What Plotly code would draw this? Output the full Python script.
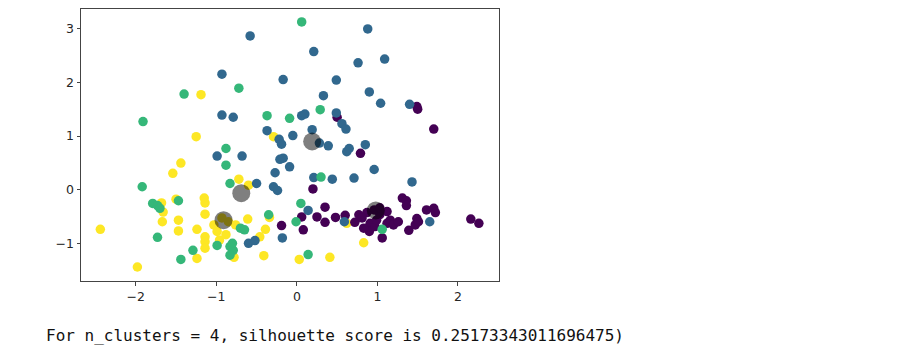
import plotly.graph_objects as go

# ---- data (cluster labels 0..3) ----
c0_x = [1.49, 1.50, 1.70, 0.50, 0.79, 0.20, 0.35, 0.06, -0.19, 0.08, 0.25, 0.35, 0.48, 0.60, 0.72,
        0.77, 0.87, 0.91, 0.90, 0.97, 0.99, 1.03, 1.12, 1.16, 1.12, 1.20, 1.26, 1.31, 1.36, 1.36,
        1.39, 1.47, 1.49, 1.51, 1.61, 1.70, 1.72, 2.16, 2.26, 1.06, 0.96, 1.03, 0.83, 0.81]
c0_y = [1.55, 1.50, 1.13, 1.35, 0.68, 0.02, -0.32, -0.50, -0.66, -0.74, -0.50, -0.60, -0.51, -0.47, -0.60,
        -0.46, -0.42, -0.62, -0.77, -0.68, -0.56, -0.46, -0.40, -0.56, -0.62, -0.65, -0.59, -0.15, -0.20, -0.29,
        -0.75, -0.65, -0.53, -0.59, -0.37, -0.34, -0.42, -0.54, -0.62, -0.89, -0.37, -0.33, -0.71, -0.52]

c1_x = [-0.58, 0.88, 0.21, 0.76, 1.09, -0.93, -0.17, 0.49, 0.33, 0.90, 1.04, 1.40, -0.93, -0.79, 0.06,
        0.10, 0.49, 0.56, 0.61, -0.37, -0.22, -0.19, -0.05, 0.19, 0.28, 0.39, 0.62, 0.65, 0.85, -0.99,
        -0.68, -0.21, -0.17, -0.09, -0.27, -0.50, -0.29, -0.24, 0.96, 0.21, 0.44, 0.71, 1.43, 0.14, 0.59,
        1.65, -0.18, -0.60, -0.52]
c1_y = [2.86, 2.99, 2.57, 2.36, 2.43, 2.15, 2.05, 2.04, 1.75, 1.82, 1.61, 1.59, 1.39, 1.35, 1.38,
        1.41, 1.43, 1.23, 1.13, 1.10, 0.94, 0.85, 1.01, 1.12, 0.87, 0.82, 0.71, 0.77, 0.84, 0.63,
        0.63, 0.57, 0.59, 0.43, 0.32, 0.12, 0.06, -0.01, 0.38, 0.23, 0.20, 0.22, 0.15, -0.38, -0.59,
        -0.59, -0.89, -0.99, -0.94]

c2_x = [0.06, -0.72, -1.40, -1.91, -0.37, -0.09, 0.29, -0.88, -0.88, -0.83, -1.92, -1.79, -1.73, -1.70,
        -1.47, -1.73, -1.44, -1.29, -0.99, -0.83, -0.79, -0.83, -0.80, -0.70, -0.65, -0.35, -0.01, 0.05,
        0.30, 0.14, 1.06]
c2_y = [3.12, 1.89, 1.78, 1.27, 1.38, 1.33, 1.49, 0.77, 0.46, 0.12, 0.06, -0.25, -0.29, -0.34,
        -0.20, -0.88, -1.29, -1.12, -1.03, -1.05, -1.12, -1.21, -0.99, -0.71, -0.74, -0.46, -0.59, -0.25,
        0.24, -1.20, -0.73]

c3_x = [-1.19, -1.25, -0.29, -1.44, -1.54, -0.72, -0.60, -1.15, -1.14, -1.50, -1.68, -1.66, -1.67, -1.14,
        -1.47, -1.47, -1.24, -1.03, -0.99, -1.14, -1.14, -1.14, -0.96, -0.88, -0.76, -0.61, -1.24, -1.98,
        -2.44, -0.78, -0.46, -0.39, -0.34, -0.41, 0.03, 0.41, 0.83, 0.62, -0.93, -0.85]
c3_y = [1.77, 0.99, 0.99, 0.50, 0.31, 0.20, 0.09, -0.15, -0.24, -0.17, -0.24, -0.41, -0.59, -0.45,
        -0.56, -0.76, -0.73, -0.65, -0.77, -0.87, -0.96, -1.08, -0.93, -0.83, -0.65, -0.54, -1.27, -1.43,
        -0.73, -1.25, -0.87, -0.73, -0.51, -1.22, -1.29, -1.25, -0.98, -0.62, -0.52, -0.59]

centers_x = [0.19, -0.69, -0.91, 0.98]
centers_y = [0.90, -0.06, -0.56, -0.38]

x_ticks = [-2, -1, 0, 1, 2]
x_tick_text = ["\u22122", "\u22121", "0", "1", "2"]
y_ticks = [-1, 0, 1, 2, 3]
y_tick_text = ["\u22121", "0", "1", "2", "3"]

caption = "For n_clusters = 4, silhouette score is 0.25173343011696475)"

colors = ["#440154", "#31688e", "#35b779", "#fde725"]

fig = go.Figure()
order = [(c3_x, c3_y, colors[3]), (c0_x, c0_y, colors[0]), (c1_x, c1_y, colors[1]), (c2_x, c2_y, colors[2])]
for xs, ys, col in order:
    fig.add_trace(go.Scatter(x=xs, y=ys, mode="markers",
                             marker=dict(color=col, size=9.5, line=dict(width=0)),
                             showlegend=False, hoverinfo="skip"))
fig.add_trace(go.Scatter(x=centers_x, y=centers_y, mode="markers",
                         marker=dict(color="rgba(0,0,0,0.5)", size=18, line=dict(width=0)),
                         showlegend=False, hoverinfo="skip"))

axis_common = dict(showgrid=False, zeroline=False, showline=True, mirror=True,
                   linecolor="#444", linewidth=1, ticks="outside", ticklen=3.5,
                   tickcolor="#444", tickwidth=1,
                   tickfont=dict(family="DejaVu Sans", size=12.5, color="#262626"))

fig.update_xaxes(range=[-2.68, 2.51], tickmode="array", tickvals=x_ticks, ticktext=x_tick_text,
                 **axis_common)
fig.update_yaxes(range=[-1.69, 3.36], tickmode="array", tickvals=y_ticks, ticktext=y_tick_text,
                 **axis_common)

fig.add_annotation(text=caption, xref="paper", yref="paper", x=-0.089, y=-0.199,
                   xanchor="left", yanchor="middle", showarrow=False,
                   font=dict(family="DejaVu Sans Mono", size=16, color="#111"))

fig.update_layout(width=914, height=359, autosize=False,
                  margin=dict(l=81, r=415, t=9, b=78),
                  paper_bgcolor="white", plot_bgcolor="white")

fig.write_html("out.html")
